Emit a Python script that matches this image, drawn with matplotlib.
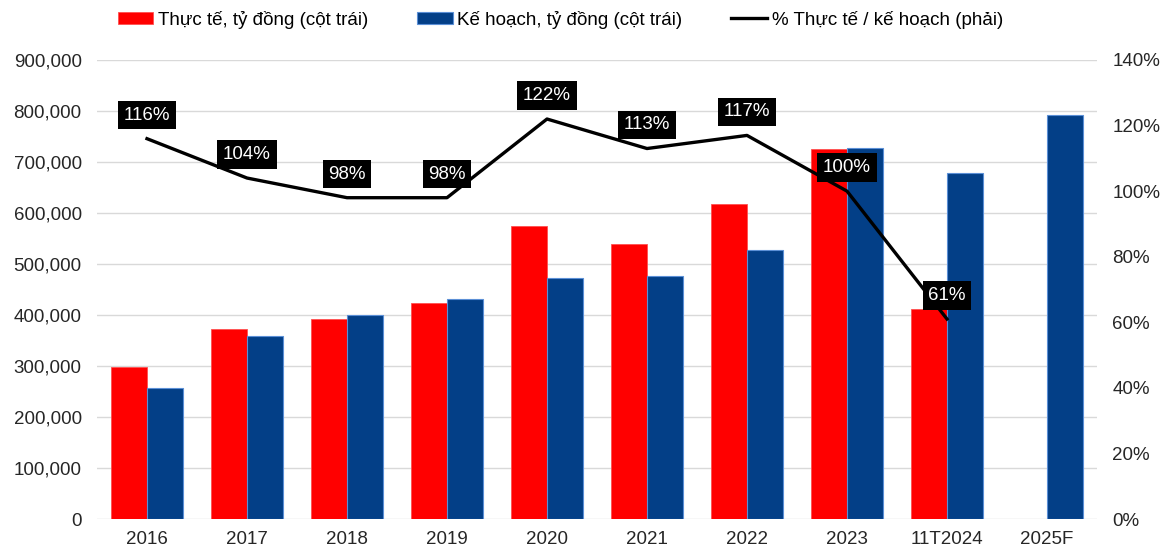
import numpy as np
import matplotlib.pyplot as plt
from matplotlib.ticker import FuncFormatter

plt.rcParams['font.family'] = ['Liberation Sans', 'DejaVu Sans']

# Dữ liệu
categories = ["2016", "2017", "2018", "2019", "2020", "2021", "2022", "2023", "11T2024", "2025F"]
actual = [298000, 373000, 392000, 423000, 575000, 539000, 617000, 725000, 412000, np.nan]
plan = [256000, 359000, 400000, 431000, 472000, 477000, 527000, 728000, 678000, 792000]
pct = [116, 104, 98, 98, 122, 113, 117, 100, 61]
pct_labels = ["116%", "104%", "98%", "98%", "122%", "113%", "117%", "100%", "61%"]

red = "#FF0000"
blue = "#033F87"

fig = plt.figure(figsize=(11.6, 5.48), dpi=100)
ax = fig.add_axes([97 / 1160, 29 / 548, 1000 / 1160, 459 / 548])

x = np.arange(len(categories))
w = 0.36
ax.bar(x - w / 2, actual, width=w, color=red, edgecolor="#FF5050", linewidth=0.6,
       label="Thực tế, tỷ đồng (cột trái)", zorder=2)
ax.bar(x + w / 2, plan, width=w, color=blue, edgecolor="#5B8FD6", linewidth=0.8,
       label="Kế hoạch, tỷ đồng (cột trái)", zorder=2)

ax.set_xlim(-0.5, len(categories) - 0.5)
ax.set_ylim(0, 900000)
ax.set_yticks(np.arange(0, 900001, 100000))
ax.yaxis.set_major_formatter(FuncFormatter(lambda v, p: f"{int(v):,}"))
ax.set_xticks(x)
ax.set_xticklabels(categories)
ax.grid(axis="y", color="#D9D9D9", linewidth=1.0, zorder=0)
ax.set_axisbelow(True)
for s in ax.spines.values():
    s.set_visible(False)
ax.tick_params(axis="both", length=0, labelsize=13.5, colors="#262626")
ax.tick_params(axis="y", pad=11)
ax.tick_params(axis="x", pad=9)

ax2 = ax.twinx()
ax2.set_ylim(0, 140)
ax2.set_yticks(np.arange(0, 141, 20))
ax2.yaxis.set_major_formatter(FuncFormatter(lambda v, p: f"{int(v)}%"))
for s in ax2.spines.values():
    s.set_visible(False)
ax2.tick_params(axis="y", length=0, labelsize=13.5, colors="#262626", pad=11)

ax2.plot(x[:len(pct)], pct, color="black", linewidth=2.4, zorder=3,
         label="% Thực tế / kế hoạch (phải)")
for xi, v, t in zip(x, pct, pct_labels):
    ax2.annotate(t, (xi, v), xytext=(0, 17), textcoords="offset points",
                 ha="center", va="center", fontsize=13.5, color="white",
                 bbox=dict(boxstyle="square,pad=0.3", fc="black", ec="none"), zorder=4)

h1, l1 = ax.get_legend_handles_labels()
h2, l2 = ax2.get_legend_handles_labels()
fig.legend(h1 + h2, l1 + l2, loc="center", bbox_to_anchor=(0.483, 0.964), ncol=3,
           frameon=False, fontsize=13.5, handlelength=1.9, handleheight=0.6,
           handletextpad=0.25, columnspacing=2.6)

fig.savefig("out.png", dpi=100)
